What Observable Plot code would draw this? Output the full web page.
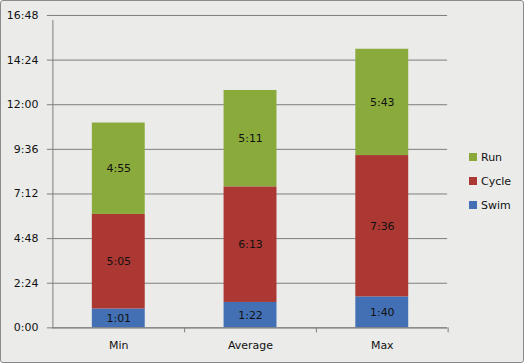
<!DOCTYPE html>
<html><head><meta charset="utf-8">
<script src="https://cdn.jsdelivr.net/npm/d3@7"></script>
<script src="https://cdn.jsdelivr.net/npm/@observablehq/plot@0.6"></script>
<style>
html,body{margin:0;padding:0;background:#fff;}
#wrap{position:relative;width:522px;height:361px;border:1px solid #8a8a8a;border-radius:3px;background:#ebebea;overflow:hidden;font-family:"DejaVu Sans",sans-serif;}
#chart{position:absolute;left:-1px;top:-1px;}
#legend{position:absolute;left:468px;top:144px;font-size:11px;color:#111;}
.li{display:flex;align-items:center;height:24px;}
.sw{width:8px;height:8px;margin-right:4px;}
</style></head><body>
<div id="wrap"><div id="chart"></div><div id="legend"></div></div>
<script>
const categories = ["Min", "Average", "Max"];
const series = ["Swim", "Cycle", "Run"];
// minutes
const swim = [61, 82, 100];
const cycle = [305, 373, 456];
const run = [295, 311, 343];
const colors = ["#4370b4", "#ab3832", "#8aab3c"];
const yTicks = d3.range(0, 1009, 144);

const fmt = m => `${Math.floor(m / 60)}:${String(Math.round(m % 60)).padStart(2, "0")}`;
const vals = [swim, cycle, run];
const data = [];
series.forEach((s, i) => categories.forEach((c, j) => data.push({cat: c, series: s, value: vals[i][j]})));

const W = 524, H = 363, ml = 52, mr = 76, mt = 15, mb = 35;
const half = (W - ml - mr) / categories.length / 2;
const grey = "#7d7d7d";

const plot = Plot.plot({
  width: W, height: H,
  marginLeft: ml, marginRight: mr, marginTop: mt, marginBottom: mb,
  style: {background: "transparent", fontFamily: "DejaVu Sans, sans-serif", fontSize: "11px", color: "#111"},
  x: {domain: categories, paddingInner: 0.6, paddingOuter: 0.3, label: null, axis: null},
  y: {domain: [0, 1008], label: null, axis: null},
  color: {domain: series, range: colors},
  marks: [
    Plot.ruleY(yTicks, {stroke: grey}),
    Plot.barY(data, Plot.stackY({x: "cat", y: "value", fill: "series", z: "series"})),
    Plot.text(data, Plot.stackY({x: "cat", y: "value", z: "series", text: d => fmt(d.value), fill: "#111", fontSize: 11})),
    Plot.axisY(yTicks, {tickFormat: fmt, tickSize: 5, tickPadding: 9, stroke: grey, fontSize: 11, fill: "#111"}),
    Plot.ruleX([categories[0]], {dx: -half, y1: 0, y2: 1008, stroke: grey, insetBottom: -5}),
    Plot.ruleY([0], {stroke: grey}),
    Plot.ruleX(categories, {dx: half, y1: 0, y2: 0, stroke: grey, insetBottom: -5}),
    Plot.axisX(categories, {tickSize: 0, tickPadding: 13, fontSize: 11, fill: "#111"})
  ]
});
document.getElementById("chart").append(plot);

const legend = document.getElementById("legend");
series.slice().reverse().forEach(s => {
  const row = document.createElement("div");
  row.className = "li";
  const sw = document.createElement("span");
  sw.className = "sw";
  sw.style.background = colors[series.indexOf(s)];
  const t = document.createElement("span");
  t.textContent = s;
  row.append(sw, t);
  legend.append(row);
});
</script>
</body></html>
